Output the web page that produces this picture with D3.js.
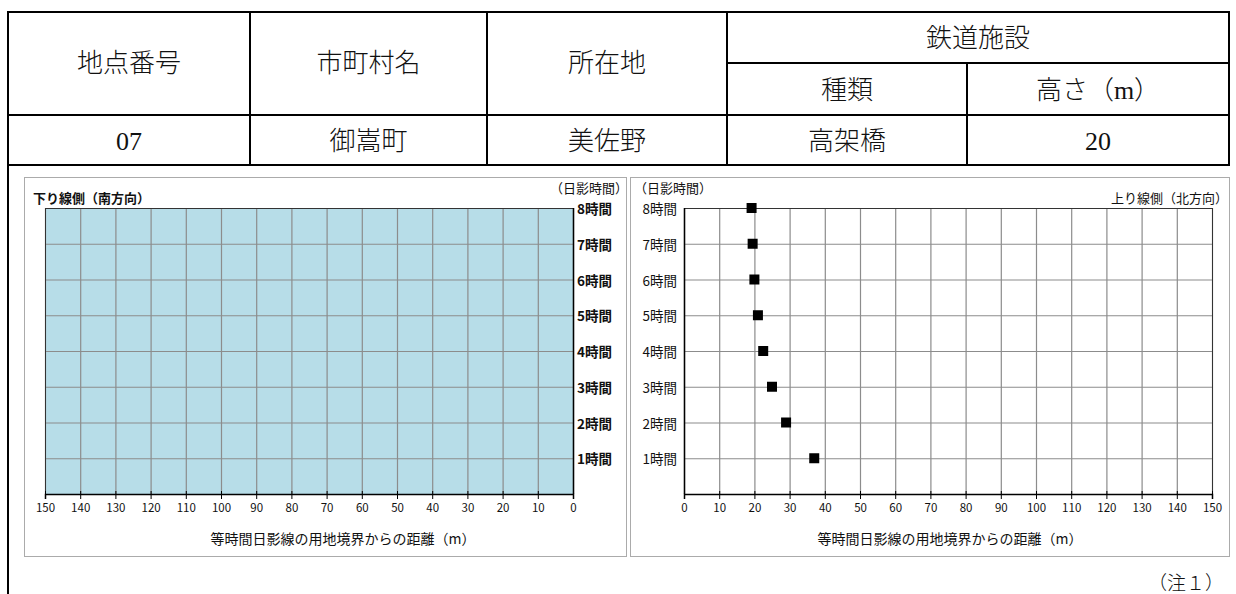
<!DOCTYPE html>
<html>
<head>
<meta charset="utf-8">
<script src="https://cdn.jsdelivr.net/npm/d3@7"></script>
<style>
  body { margin: 0; background: #fff; }
  svg { display: block; }
  .tbl { font-family: "Liberation Serif", "Noto Sans CJK JP", serif; font-size: 26px; fill: #111; font-weight: 300; }
  .ch { font-family: "Noto Sans CJK JP", sans-serif; font-size: 13px; fill: #111; }
  .tick text { font-family: "Noto Sans CJK JP", sans-serif; font-size: 11.5px; fill: #111; }
</style>
</head>
<body>
<script>
// table contents
var headCols = ["地点番号", "市町村名", "所在地"];
var railHead = "鉄道施設";
var railSub = ["種類", "高さ（m）"];
var rowValues = ["07", "御嵩町", "美佐野", "高架橋", "20"];

// chart values
var hours = [1, 2, 3, 4, 5, 6, 7, 8];
var hourLabels = ["1時間", "2時間", "3時間", "4時間", "5時間", "6時間", "7時間", "8時間"];
var distTicks = [0, 10, 20, 30, 40, 50, 60, 70, 80, 90, 100, 110, 120, 130, 140, 150];
// 上り線側 (north) distance for each hour
var northDist = [37, 29, 25, 22.5, 21, 20, 19.5, 19.2];

var svgWidth = 1236, svgHeight = 594;

var svg = d3.select("body").append("svg")
  .attr("width", svgWidth)
  .attr("height", svgHeight);

// ---------- header table ----------
var colX = [8, 250, 487, 727, 967, 1229];
var rowY = [12, 63, 115, 165];

var tbl = svg.append("g");

function hline(g, x1, x2, y) {
  g.append("line").attr("x1", x1).attr("x2", x2).attr("y1", y).attr("y2", y)
    .attr("stroke", "#000").attr("stroke-width", 2);
}
function vline(g, x, y1, y2) {
  g.append("line").attr("x1", x).attr("x2", x).attr("y1", y1).attr("y2", y2)
    .attr("stroke", "#000").attr("stroke-width", 2);
}

hline(tbl, colX[0] - 1, colX[5] + 1, rowY[0]);
hline(tbl, colX[3], colX[5], rowY[1]);
hline(tbl, colX[0], colX[5], rowY[2]);
hline(tbl, colX[0], colX[5], rowY[3]);
vline(tbl, colX[0], rowY[0], svgHeight);
vline(tbl, colX[5], rowY[0], rowY[3] + 1);
[1, 2, 3].forEach(function(i) { vline(tbl, colX[i], rowY[0], rowY[3]); });
vline(tbl, colX[4], rowY[1], rowY[3]);

headCols.forEach(function(t, i) {
  tbl.append("text").attr("class", "tbl")
    .attr("x", (colX[i] + colX[i + 1]) / 2).attr("y", (rowY[0] + rowY[2]) / 2)
    .attr("text-anchor", "middle").attr("dominant-baseline", "central")
    .text(t);
});
tbl.append("text").attr("class", "tbl")
  .attr("x", (colX[3] + colX[5]) / 2).attr("y", (rowY[0] + rowY[1]) / 2 + 1)
  .attr("text-anchor", "middle").attr("dominant-baseline", "central")
  .text(railHead);
railSub.forEach(function(t, i) {
  tbl.append("text").attr("class", "tbl")
    .attr("x", (colX[3 + i] + colX[4 + i]) / 2).attr("y", (rowY[1] + rowY[2]) / 2 + 1)
    .attr("text-anchor", "middle").attr("dominant-baseline", "central")
    .text(t);
});
rowValues.forEach(function(t, i) {
  tbl.append("text").attr("class", "tbl")
    .attr("x", (colX[i] + colX[i + 1]) / 2).attr("y", (rowY[2] + rowY[3]) / 2 + 1)
    .attr("text-anchor", "middle").attr("dominant-baseline", "central")
    .text(t);
});

svg.append("text").attr("class", "tbl")
  .attr("x", 1224).attr("y", 583)
  .attr("text-anchor", "end").attr("dominant-baseline", "central")
  .style("font-size", "19px")
  .text("（注１）");

// ---------- charts ----------
var plotTop = 208, plotBottom = 494;

var yScale = d3.scaleLinear().domain([0, 8]).range([plotBottom, plotTop]);

function drawChart(opts) {
  var g = svg.append("g");

  // outer frame
  g.append("rect")
    .attr("x", opts.box[0] + 0.5).attr("y", 177.5)
    .attr("width", opts.box[1] - opts.box[0]).attr("height", 379)
    .attr("fill", "#fff").attr("stroke", "#ababab");

  var x = opts.x;
  var x0 = d3.min(x.range()), x1 = d3.max(x.range());

  g.append("rect")
    .attr("x", x0).attr("y", plotTop)
    .attr("width", x1 - x0).attr("height", plotBottom - plotTop)
    .attr("fill", opts.fill);

  // grid
  g.append("g").selectAll("line.vg")
    .data(distTicks).enter().append("line")
    .attr("x1", d => x(d) + 0.5).attr("x2", d => x(d) + 0.5)
    .attr("y1", plotTop).attr("y2", plotBottom)
    .attr("stroke", "#8c8c8c").attr("stroke-width", 1.2);
  g.append("g").selectAll("line.hg")
    .data(hours).enter().append("line")
    .attr("x1", x0).attr("x2", x1)
    .attr("y1", d => yScale(d) + 0.5).attr("y2", d => yScale(d) + 0.5)
    .attr("stroke", "#8c8c8c").attr("stroke-width", 1.2);

  // plot border
  g.append("rect")
    .attr("x", x0 + 0.5).attr("y", plotTop + 0.5)
    .attr("width", x1 - x0).attr("height", plotBottom - plotTop)
    .attr("fill", "none").attr("stroke", "#333").attr("stroke-width", 1);

  // value axis (hours)
  g.append("line")
    .attr("x1", x(0) + 0.5).attr("x2", x(0) + 0.5)
    .attr("y1", plotTop).attr("y2", plotBottom)
    .attr("stroke", "#000").attr("stroke-width", 1.5);

  // distance axis
  var bottomAxis = d3.axisBottom(x).tickValues(distTicks).tickSize(5).tickPadding(5);
  var ax = g.append("g")
    .attr("transform", `translate(0, ${plotBottom})`)
    .call(bottomAxis);
  ax.select(".domain").attr("stroke", "#000").attr("stroke-width", 1.5);
  ax.selectAll(".tick line").attr("stroke", "#000").attr("y1", -3);

  // hour labels
  g.selectAll("text.hl")
    .data(hours).enter().append("text")
    .attr("class", "ch")
    .attr("x", opts.labelX)
    .attr("y", d => yScale(d))
    .attr("text-anchor", opts.labelAnchor)
    .attr("dominant-baseline", "central")
    .style("font-size", "13.5px")
    .style("font-weight", opts.bold ? "bold" : "normal")
    .text((d, i) => hourLabels[i]);

  g.append("text").attr("class", "ch")
    .attr("x", opts.unitX).attr("y", 187)
    .attr("text-anchor", opts.unitAnchor).attr("dominant-baseline", "central")
    .text("（日影時間）");

  g.append("text").attr("class", "ch")
    .attr("x", opts.titleX).attr("y", 197)
    .attr("text-anchor", opts.titleAnchor).attr("dominant-baseline", "central")
    .style("font-weight", opts.bold ? "bold" : "normal")
    .text(opts.title);

  g.append("text").attr("class", "ch")
    .attr("x", opts.axisTitleX).attr("y", 538)
    .attr("text-anchor", "middle").attr("dominant-baseline", "central")
    .style("font-size", "14px")
    .text("等時間日影線の用地境界からの距離（m）");

  return g;
}

// 下り線側 (south): distance runs right-to-left
var xSouth = d3.scaleLinear().domain([150, 0]).range([45, 573]);
drawChart({
  box: [24, 626], x: xSouth, fill: "#b7dde8",
  labelX: 577, labelAnchor: "start", bold: true,
  unitX: 628, unitAnchor: "end",
  titleX: 33, titleAnchor: "start", title: "下り線側（南方向）",
  axisTitleX: 343
});

// 上り線側 (north)
var xNorth = d3.scaleLinear().domain([0, 150]).range([684, 1212]);
var gN = drawChart({
  box: [630, 1229], x: xNorth, fill: "#fff",
  labelX: 677, labelAnchor: "end", bold: false,
  unitX: 634, unitAnchor: "start",
  titleX: 1228, titleAnchor: "end", title: "上り線側（北方向）",
  axisTitleX: 950
});

gN.selectAll("rect.pt")
  .data(hours).enter().append("rect")
  .attr("class", "pt")
  .attr("x", (d, i) => xNorth(northDist[i]) - 5)
  .attr("y", d => yScale(d) - 5)
  .attr("width", 10).attr("height", 10)
  .attr("fill", "#000");
</script>
</body>
</html>
